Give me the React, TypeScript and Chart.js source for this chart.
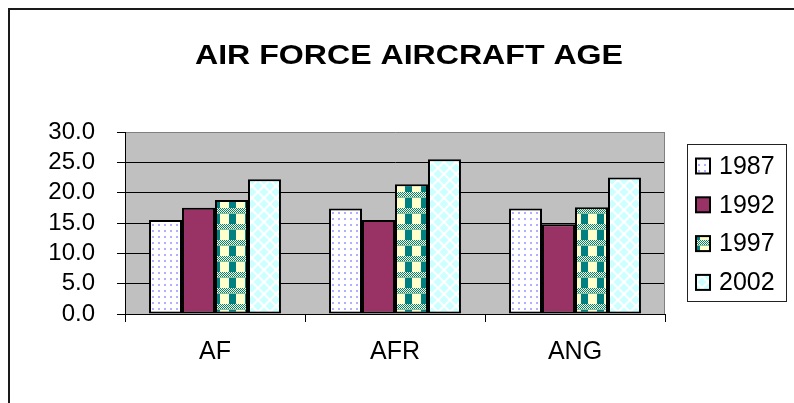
import React, { useEffect, useRef } from "react";
import { Chart, registerables } from "chart.js";

Chart.register(...registerables);

const chartTitle = "AIR FORCE AIRCRAFT AGE";
const categories = ["AF", "AFR", "ANG"];
const seriesLabels = ["1987", "1992", "1997", "2002"];
const values1987 = [15.5, 17.4, 17.4];
const values1992 = [17.5, 15.5, 14.8];
const values1997 = [18.8, 21.4, 17.6];
const values2002 = [22.2, 25.5, 22.5];
const yMin = 0;
const yMax = 30;
const yStep = 5;

const FONT = '"Liberation Sans", Arial, sans-serif';

function makeTile(w: number, h: number, draw: (c: CanvasRenderingContext2D) => void): CanvasPattern | string {
  const cv = document.createElement("canvas");
  cv.width = w;
  cv.height = h;
  const c = cv.getContext("2d")!;
  draw(c);
  const ctx = document.createElement("canvas").getContext("2d")!;
  return ctx.createPattern(cv, "repeat") || "#fff";
}

function dotsPattern() {
  return makeTile(6, 6, (c) => {
    c.fillStyle = "#ffffff";
    c.fillRect(0, 0, 6, 6);
    c.fillStyle = "#b0b0ff";
    c.fillRect(2, 2, 2, 2);
  });
}

function plaidPattern() {
  return makeTile(16, 16, (c) => {
    c.fillStyle = "#ffffcc";
    c.fillRect(0, 0, 16, 16);
    c.fillStyle = "#008080";
    for (let y = 0; y < 5; y++) {
      for (let x = 0; x < 16; x++) {
        if ((x + y) % 2 === 0) c.fillRect(x, y, 1, 1);
      }
    }
    c.fillRect(5, 6, 7, 10);
    c.fillStyle = "rgba(0,128,128,0.5)";
    c.fillRect(0, 5, 16, 1);
  });
}

function diamondPattern() {
  return makeTile(12, 12, (c) => {
    c.fillStyle = "#ffffff";
    c.fillRect(0, 0, 12, 12);
    c.fillStyle = "#ccffff";
    const centers = [
      [6, 6],
      [0, 0],
      [12, 0],
      [0, 12],
      [12, 12],
    ];
    const r = 4.5;
    for (const [cx, cy] of centers) {
      c.beginPath();
      c.moveTo(cx, cy - r);
      c.lineTo(cx + r, cy);
      c.lineTo(cx, cy + r);
      c.lineTo(cx - r, cy);
      c.closePath();
      c.fill();
    }
  });
}

const decorPlugin = {
  id: "decor",
  beforeDraw(chart: any) {
    const { ctx, chartArea: a } = chart;
    ctx.save();
    ctx.fillStyle = "#ffffff";
    ctx.fillRect(0, 0, chart.width, chart.height);
    ctx.fillStyle = "#c0c0c0";
    ctx.fillRect(a.left, a.top, a.right - a.left, a.bottom - a.top);
    ctx.restore();
  },
  beforeDatasetsDraw(chart: any) {
    const { ctx, chartArea: a } = chart;
    ctx.save();
    ctx.strokeStyle = "#808080";
    ctx.lineWidth = 1;
    ctx.beginPath();
    ctx.moveTo(a.right - 0.5, a.top);
    ctx.lineTo(a.right - 0.5, a.bottom);
    ctx.stroke();
    ctx.restore();
  },
  afterDraw(chart: any) {
    const { ctx } = chart;
    ctx.save();
    ctx.fillStyle = "#1a1a1a";
    ctx.fillRect(8, 8, chart.width - 8, 2);
    ctx.fillRect(8, 8, 2, chart.height - 8);

    ctx.fillStyle = "#000";
    ctx.font = `bold 28px ${FONT}`;
    ctx.textAlign = "center";
    ctx.textBaseline = "alphabetic";
    const w = ctx.measureText(chartTitle).width;
    ctx.save();
    ctx.translate(409, 64);
    ctx.scale(428 / w, 1);
    ctx.fillText(chartTitle, 0, 0);
    ctx.restore();

    ctx.strokeStyle = "#222";
    ctx.lineWidth = 1;
    ctx.strokeRect(687.5, 144.5, 99, 157);
    ctx.font = `25px ${FONT}`;
    ctx.textAlign = "left";
    ctx.textBaseline = "middle";
    chart.data.datasets.forEach((ds: any, i: number) => {
      const cy = 166 + i * 38.8;
      ctx.fillStyle = "#000";
      ctx.fillRect(695, cy - 8.5, 16, 17);
      ctx.fillStyle = ds.backgroundColor;
      ctx.fillRect(697, cy - 6.5, 12, 13);
      ctx.fillStyle = "#000";
      ctx.fillText(ds.label, 719, cy + 1);
    });
    ctx.restore();
  },
};

export default function App() {
  const ref = useRef<HTMLCanvasElement | null>(null);

  useEffect(() => {
    if (!ref.current) return;
    const fills = [dotsPattern(), "#993366", plaidPattern(), diamondPattern()];
    const series = [values1987, values1992, values1997, values2002];
    const chart = new Chart(ref.current, {
      type: "bar",
      data: {
        labels: categories,
        datasets: series.map((vals, i) => ({
          label: seriesLabels[i],
          data: vals,
          backgroundColor: fills[i] as any,
          borderColor: "#000000",
          borderWidth: 2,
          borderSkipped: false,
          categoryPercentage: 0.733,
          barPercentage: 1.0,
        })),
      },
      options: {
        responsive: false,
        animation: false,
        events: [],
        layout: { padding: { left: 0, top: 132, right: 129, bottom: 0 } },
        plugins: {
          legend: { display: false },
          title: { display: false },
          tooltip: { enabled: false },
        },
        scales: {
          x: {
            grid: {
              display: true,
              drawOnChartArea: false,
              drawTicks: true,
              tickLength: 8,
              offset: true,
              color: "#000",
              tickColor: "#000",
            },
            border: { display: true, color: "#000", width: 1 },
            ticks: {
              color: "#000",
              font: { family: FONT, size: 25 },
              padding: 15,
              maxRotation: 0,
            },
            afterFit: (s: any) => {
              s.height = 89;
            },
          },
          y: {
            min: yMin,
            max: yMax,
            grid: {
              display: true,
              drawOnChartArea: true,
              drawTicks: true,
              tickLength: 8,
              color: (c: any) => (c.tick && c.tick.value === yMax ? "#808080" : "#000"),
              tickColor: "#000",
              lineWidth: 1,
            },
            border: { display: true, color: "#000", width: 1 },
            ticks: {
              stepSize: yStep,
              autoSkip: false,
              color: "#000",
              font: { family: FONT, size: 24 },
              padding: 22,
              callback: (v: any) => Number(v).toFixed(1),
            },
            afterFit: (s: any) => {
              s.width = 125;
            },
          },
        },
      },
      plugins: [decorPlugin],
    });
    return () => chart.destroy();
  }, []);

  return (
    <div style={{ position: "absolute", left: 0, top: 0, width: 794, height: 403 }}>
      <canvas ref={ref} width={794} height={403} style={{ display: "block", width: 794, height: 403 }} />
    </div>
  );
}
